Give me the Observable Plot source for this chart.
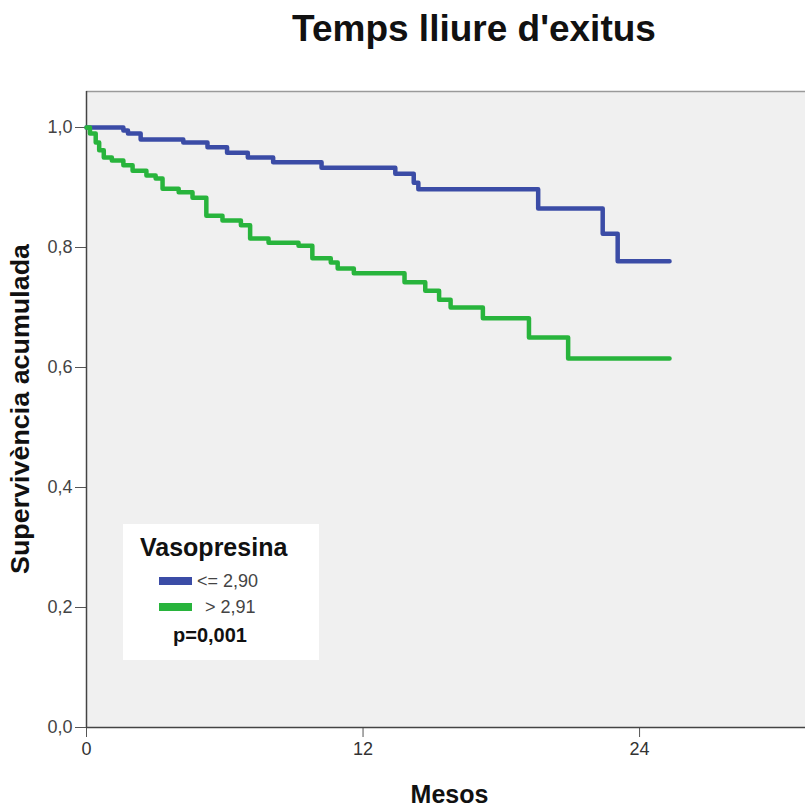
<!DOCTYPE html>
<html>
<head>
<meta charset="utf-8">
<script src="https://cdn.jsdelivr.net/npm/d3@7"></script>
<script src="https://cdn.jsdelivr.net/npm/@observablehq/plot@0.6"></script>
<style>
  body { margin: 0; background: white; }
  #title { height: 58px; line-height: 58px; text-align: center; font-family: "Liberation Sans", Arial, sans-serif; font-weight: bold; font-size: 37px; color: #111; padding-left: 143px; box-sizing: border-box; width: 805px; }
</style>
</head>
<body>
<div id="title">Temps lliure d'exitus</div>
<div id="chart"></div>
<script>
// Groups and colours
const groups = ["<= 2,90", "> 2,91"];
const colors = ["#3b4ca6", "#28b43c"];
const legendTitle = "Vasopresina";
const pText = "p=0,001";
const xLabel = "Mesos";
const yLabel = "Supervivència acumulada";

// Kaplan–Meier steps, group "<= 2,90"
const lowTimes = [0, 1.6, 1.8, 2.35, 4.2, 5.25, 6.1, 7.0, 8.1, 10.2, 13.4, 14.2, 14.4, 19.6, 22.4, 23.05, 25.3];
const lowSurv  = [1.0, 0.995, 0.99, 0.98, 0.975, 0.967, 0.958, 0.95, 0.942, 0.933, 0.923, 0.908, 0.897, 0.865, 0.823, 0.777, 0.777];

// Kaplan–Meier steps, group "> 2,91"
const highTimes = [0, 0.15, 0.4, 0.55, 0.75, 1.1, 1.6, 2.0, 2.6, 3.0, 3.3, 4.0, 4.6, 5.2, 5.9, 6.7, 7.1, 7.9, 9.2, 9.8, 10.6, 10.9, 11.6, 13.8, 14.7, 15.3, 15.8, 17.2, 19.2, 20.9, 25.3];
const highSurv  = [1.0, 0.99, 0.975, 0.962, 0.95, 0.945, 0.937, 0.928, 0.92, 0.915, 0.898, 0.892, 0.883, 0.853, 0.845, 0.837, 0.815, 0.808, 0.803, 0.782, 0.775, 0.765, 0.757, 0.742, 0.728, 0.713, 0.70, 0.682, 0.65, 0.615, 0.615];

// Axes
const xTicks = [0, 12, 24];
const yTicks = [0, 0.2, 0.4, 0.6, 0.8, 1.0];
const xMax = 31.2;
const yMax = 1.06;

const lowData = lowTimes.map((t, i) => ({t, s: lowSurv[i], g: groups[0]}));
const highData = highTimes.map((t, i) => ({t, s: highSurv[i], g: groups[1]}));
const fmtY = d => d.toFixed(1).replace(".", ",");

const W = 805, H = 752, mt = 33, mb = 83, ml = 86, mr = 0;

const chart = Plot.plot({
  width: W, height: H,
  marginTop: mt, marginBottom: mb, marginLeft: ml, marginRight: mr,
  x: {domain: [0, xMax], label: null},
  y: {domain: [0, yMax], label: null},
  style: {fontFamily: "'Liberation Sans', Arial, sans-serif", fontSize: "18px", background: "white", color: "#333"},
  marks: [
    Plot.frame({fill: "#f0f0f0", stroke: null}),
    Plot.ruleY([yMax], {stroke: "#9a9a9a", strokeWidth: 1.5}),
    Plot.axisX({ticks: xTicks, tickFormat: d => String(d), tickSize: 10, tickPadding: 5, stroke: "#555", fill: "#333", fontSize: 18, label: null}),
    Plot.axisY({ticks: yTicks, tickFormat: fmtY, tickSize: 11, tickPadding: 3, stroke: "#555", fill: "#444", fontSize: 18, label: null}),
    Plot.ruleX([0], {stroke: "#444", strokeWidth: 1.5}),
    Plot.ruleY([0], {stroke: "#444", strokeWidth: 1.5}),
    Plot.line(lowData, {x: "t", y: "s", curve: "step-after", stroke: colors[0], strokeWidth: 4.5}),
    Plot.line(highData, {x: "t", y: "s", curve: "step-after", stroke: colors[1], strokeWidth: 4.5})
  ]
});
document.getElementById("chart").appendChild(chart);

const svg = d3.select(chart);
const font = "'Liberation Sans', Arial, sans-serif";
// axis titles
svg.append("text")
  .attr("transform", `translate(29, ${(mt + H - mb) / 2}) rotate(-90)`)
  .attr("text-anchor", "middle")
  .attr("font-family", font).attr("font-weight", "bold").attr("font-size", 26).attr("fill", "#111")
  .attr("textLength", 330).attr("lengthAdjust", "spacingAndGlyphs")
  .text(yLabel);
svg.append("text")
  .attr("x", (ml + W - mr) / 2 + 4).attr("y", H - 7)
  .attr("text-anchor", "middle")
  .attr("font-family", font).attr("font-weight", "bold").attr("font-size", 25).attr("fill", "#111")
  .text(xLabel);

// legend box (page y minus 58)
const off = 58;
const lg = svg.append("g").attr("font-family", font).attr("text-anchor", "start");
lg.append("rect").attr("x", 123).attr("y", 524 - off).attr("width", 196).attr("height", 136).attr("fill", "white");
lg.append("text").attr("x", 140).attr("y", 556 - off).attr("font-weight", "bold").attr("font-size", 25).attr("fill", "#111").text(legendTitle);
const rows = [{y: 581, tx: 197}, {y: 607, tx: 205}];
groups.forEach((g, i) => {
  lg.append("rect").attr("x", 159).attr("y", rows[i].y - 4 - off).attr("width", 33).attr("height", 8).attr("fill", colors[i]);
  lg.append("text").attr("x", rows[i].tx).attr("y", rows[i].y - off).attr("dy", "0.35em").attr("font-size", 18).attr("fill", "#444").text(g);
});
lg.append("text").attr("x", 173).attr("y", 642 - off).attr("font-weight", "bold").attr("font-size", 20).attr("fill", "#111").text(pText);
</script>
</body>
</html>
